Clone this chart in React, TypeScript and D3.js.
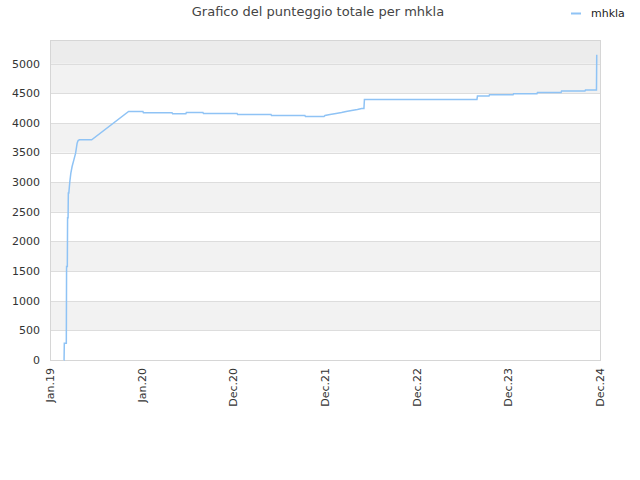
import { useRef, useEffect } from "react";
import * as d3 from "d3";

// score history for mhkla
const dates = [
  "2019-02-25", "2019-02-26", "2019-02-27", "2019-03-07", "2019-03-08", "2019-03-11",
  "2019-03-12", "2019-03-14", "2019-03-15", "2019-03-17", "2019-03-21", "2019-03-25",
  "2019-03-30", "2019-04-06", "2019-04-13", "2019-04-19", "2019-04-23", "2019-04-28",
  "2019-06-16", "2019-11-10", "2020-01-06", "2020-01-08", "2020-05-01", "2020-05-03",
  "2020-06-25", "2020-06-27", "2020-09-01", "2020-09-03", "2021-01-15", "2021-01-17",
  "2021-05-30", "2021-06-01", "2021-10-12", "2021-10-14", "2021-12-27", "2021-12-31",
  "2022-01-20", "2022-02-13", "2022-03-07", "2022-03-25", "2022-04-16", "2022-05-09",
  "2022-05-26", "2022-06-04", "2022-06-06", "2023-08-28", "2023-08-30", "2023-10-15",
  "2023-10-17", "2024-01-19", "2024-01-21", "2024-04-23", "2024-04-25", "2024-07-28",
  "2024-07-30", "2024-10-31", "2024-11-02", "2024-12-16", "2024-12-17",
];
const scores = [
  0, 0, 282, 282, 1576, 1576,
  2400, 2400, 2820, 2820, 3012, 3153,
  3265, 3378, 3490, 3659, 3704, 3716,
  3716, 4194, 4194, 4172, 4172, 4155,
  4155, 4177, 4177, 4160, 4160, 4143,
  4143, 4126, 4126, 4109, 4109, 4126,
  4143, 4160, 4177, 4194, 4211, 4228,
  4245, 4245, 4396, 4396, 4454, 4454,
  4476, 4476, 4493, 4493, 4515, 4515,
  4538, 4538, 4555, 4555, 5151,
];

const xTickDates = ["2019-01-01", "2020-01-01", "2020-12-31", "2021-12-31", "2022-12-31", "2023-12-31", "2024-12-30"];
const xTickLabels = ["Jan.19", "Jan.20", "Dec.20", "Dec.21", "Dec.22", "Dec.23", "Dec.24"];
const yTicks = [0, 500, 1000, 1500, 2000, 2500, 3000, 3500, 4000, 4500, 5000];
const yMax = 5400;

const seriesName = "mhkla";
const title = "Grafico del punteggio totale per mhkla";

export default function App() {
  const svgRef = useRef<SVGSVGElement>(null);

  useEffect(() => {
    if (!svgRef.current) return;
    const svg = d3.select(svgRef.current);
    svg.selectAll("*").remove();

    const width = 640;
    const height = 480;
    const margin = { top: 40, right: 40, bottom: 120, left: 50 };
    const w = width - margin.left - margin.right;
    const h = height - margin.top - margin.bottom;
    const font = "DejaVu Sans, sans-serif";
    const parse = d3.timeParse("%Y-%m-%d");

    const data = dates.map((d, i) => ({ date: parse(d)!, value: scores[i] }));
    const tickDates = xTickDates.map((d) => parse(d)!);

    const x = d3.scaleTime().domain([tickDates[0], tickDates[tickDates.length - 1]]).range([0, w]);
    const y = d3.scaleLinear().domain([0, yMax]).range([h, 0]);

    svg.append("rect").attr("width", width).attr("height", height).attr("fill", "#fff");

    const g = svg.append("g").attr("transform", `translate(${margin.left},${margin.top})`);

    // alternating bands
    const bandEdges = [...yTicks, yMax];
    bandEdges.slice(0, -1).forEach((lo, i) => {
      const hi = bandEdges[i + 1];
      const fill = i === bandEdges.length - 2 ? "#ececec" : i % 2 === 1 ? "#f2f2f2" : "#ffffff";
      g.append("rect")
        .attr("x", 0)
        .attr("y", y(hi))
        .attr("width", w)
        .attr("height", y(lo) - y(hi))
        .attr("fill", fill);
    });

    g.selectAll(".grid")
      .data(yTicks.slice(1))
      .enter()
      .append("line")
      .attr("x1", 0)
      .attr("x2", w)
      .attr("y1", (d) => Math.round(y(d)) + 0.5)
      .attr("y2", (d) => Math.round(y(d)) + 0.5)
      .attr("stroke", "#dddddd");

    g.append("rect")
      .attr("x", 0.5)
      .attr("y", 0.5)
      .attr("width", w)
      .attr("height", h)
      .attr("fill", "none")
      .attr("stroke", "#d6d6d6");

    const line = d3.line<{ date: Date; value: number }>()
      .x((d) => x(d.date))
      .y((d) => y(d.value));

    g.append("path")
      .datum(data)
      .attr("fill", "none")
      .attr("stroke", "#8fc3f5")
      .attr("stroke-width", 1.5)
      .attr("d", line);

    // y axis labels
    g.selectAll(".ylab")
      .data(yTicks)
      .enter()
      .append("text")
      .attr("x", -10)
      .attr("y", (d) => y(d))
      .attr("dy", "0.35em")
      .attr("text-anchor", "end")
      .attr("font-family", font)
      .attr("font-size", 11)
      .attr("fill", "#333")
      .text((d) => d);

    // x axis labels
    g.selectAll(".xlab")
      .data(tickDates)
      .enter()
      .append("text")
      .attr("transform", (d) => `translate(${x(d)},${h + 8}) rotate(-90)`)
      .attr("dy", "0.35em")
      .attr("text-anchor", "end")
      .attr("font-family", font)
      .attr("font-size", 11)
      .attr("fill", "#333")
      .text((_, i) => xTickLabels[i]);

    svg.append("text")
      .attr("x", 318)
      .attr("y", 16)
      .attr("text-anchor", "middle")
      .attr("font-family", font)
      .attr("font-size", 13)
      .attr("fill", "#444")
      .text(title);

    // legend
    svg.append("line")
      .attr("x1", 571)
      .attr("x2", 581)
      .attr("y1", 13.5)
      .attr("y2", 13.5)
      .attr("stroke", "#8fc3f5")
      .attr("stroke-width", 2);
    svg.append("text")
      .attr("x", 591)
      .attr("y", 13)
      .attr("dy", "0.35em")
      .attr("font-family", font)
      .attr("font-size", 11)
      .attr("fill", "#222")
      .text(seriesName);
  }, []);

  return (
    <svg
      ref={svgRef}
      width={640}
      height={480}
      style={{ position: "absolute", left: 0, top: 0, display: "block" }}
    />
  );
}
